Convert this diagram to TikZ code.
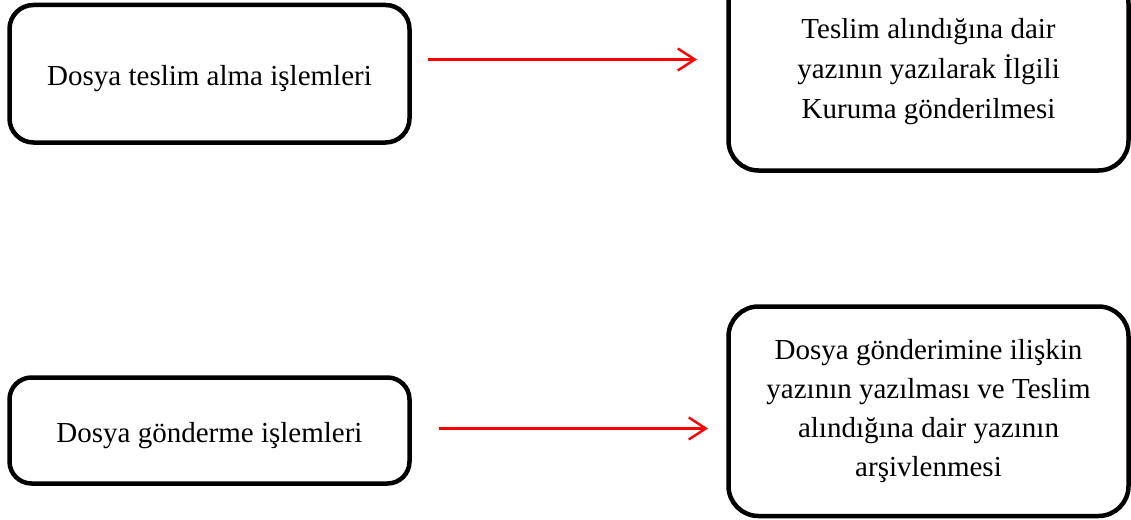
\documentclass[tikz,border=0pt]{standalone}
\usepackage{fontspec}
\setmainfont{Liberation Serif}
\usetikzlibrary{arrows.meta}
\begin{document}
\begin{tikzpicture}[x=1pt,y=-1pt,
  procbox/.style={draw=black, line width=4.5pt, fill=white, rounded corners=#1,
    align=center, inner sep=0pt,
    font=\fontsize{29}{39}\selectfont},
  procbox/.default=24pt,
  oneline/.style={text height=24pt, text depth=0pt},
  flow/.style={draw=red, line width=2.4pt,
    -{Straight Barb[length=17pt,width=22pt,line width=2.4pt]}}]
  \useasboundingbox (0,0) rectangle (1131,519);
  \clip (0,0) rectangle (1131,519);
  % upper row: receiving files
  \node[procbox, oneline, minimum width=400pt, minimum height=137.5pt] (recv) at (209.5,73.75)
    {Dosya teslim alma işlemleri};
  \node[procbox=30pt, minimum width=400pt, minimum height=197pt,
    font=\fontsize{29}{40}\selectfont] (recvout) at (928.5,72)
    {Teslim alındığına dair\\yazının yazılarak İlgili\\Kuruma gönderilmesi};
  % lower row: sending files
  \node[procbox=22pt, oneline, minimum width=400pt, minimum height=106pt] (send) at (209.5,430.5)
    {Dosya gönderme işlemleri};
  \node[procbox=30pt, minimum width=400pt, minimum height=209.5pt] (sendout) at (928.5,411.25)
    {Dosya gönderimine ilişkin\\yazının yazılması ve Teslim\\alındığına dair yazının\\arşivlenmesi};
  % arrows
  \coordinate (r1) at (428,59.5);
  \coordinate (r2) at (697,59.5);
  \coordinate (s1) at (439,428.5);
  \coordinate (s2) at (708,428.5);
  \draw[flow] (r1) -- (r2);
  \draw[flow] (s1) -- (s2);
\end{tikzpicture}
\end{document}
